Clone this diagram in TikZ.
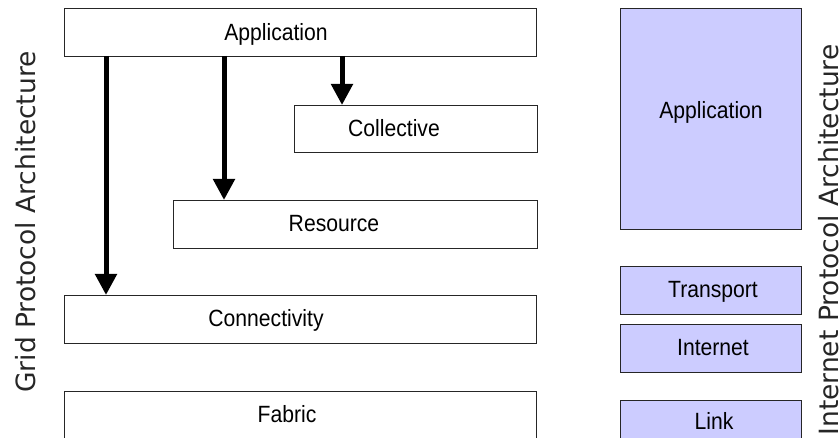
\documentclass[tikz,border=0pt]{standalone}
\usepackage{fontspec}
\setmainfont{Liberation Sans}
\newfontfamily\boxfont[FakeStretch=0.9]{Liberation Sans}
\newfontfamily\sidefont{DejaVu Sans}
\usetikzlibrary{arrows.meta}
\definecolor{lav}{HTML}{CCCCFF}
\begin{document}
\begin{tikzpicture}[x=1pt,y=-1pt,
  layerbox/.style={draw=black!85, line width=0.9pt, rectangle, inner sep=0pt, anchor=north west},
  iplayer/.style={layerbox, fill=lav},
  lbl/.style={font=\boxfont\fontsize{23.5}{26}\selectfont, inner sep=0pt, anchor=base},
  side/.style={font=\sidefont\fontsize{26.5}{30}\selectfont, inner sep=0pt, anchor=base, rotate=90, text=black!85},
  bigarrow/.style={line width=5pt, -{Triangle[width=21pt,length=21pt]}}]
\useasboundingbox (0,0) rectangle (839,438);
% Grid protocol architecture
\node[layerbox, minimum width=472pt, minimum height=48pt] (gapp) at (64,8) {};
\node[layerbox, minimum width=243pt, minimum height=47pt] (gcol) at (294,105) {};
\node[layerbox, minimum width=364pt, minimum height=48pt] (gres) at (173,200) {};
\node[layerbox, minimum width=472pt, minimum height=48pt] (gcon) at (64,295) {};
\node[layerbox, minimum width=472pt, minimum height=60pt] (gfab) at (64,391) {};
\node[lbl] (tgapp) at (276,41) {Application};
\node[lbl] (tgcol) at (394,137) {Collective};
\node[lbl] (tgres) at (334,232) {Resource};
\node[lbl] (tgcon) at (266,327) {Connectivity};
\node[lbl] (tgfab) at (287,423) {Fabric};
% arrows
\coordinate (a1) at (106,56);
\coordinate (a2) at (224,56);
\coordinate (a3) at (342,56);
\draw[bigarrow] (a1) -- (a1 |- gcon.north);
\draw[bigarrow] (a2) -- (a2 |- gres.north);
\draw[bigarrow] (a3) -- (a3 |- gcol.north);
% Internet protocol architecture
\node[iplayer, minimum width=181pt, minimum height=221pt] (iapp) at (620,8) {};
\node[iplayer, minimum width=181pt, minimum height=48pt] (itra) at (620,266) {};
\node[iplayer, minimum width=181pt, minimum height=48pt] (iint) at (620,324) {};
\node[iplayer, minimum width=181pt, minimum height=60pt] (ilnk) at (620,400) {};
\node[lbl] (tiapp) at (711,119) {Application};
\node[lbl] (titra) at (713,298) {Transport};
\node[lbl] (tiint) at (713,356) {Internet};
\node[lbl] (tilnk) at (714,430) {Link};
% side titles
\node[side] (gtitle) at (35,222) {Grid Protocol Architecture};
\node[side] (ititle) at (838,240) {Internet Protocol Architecture};
\end{tikzpicture}
\end{document}
